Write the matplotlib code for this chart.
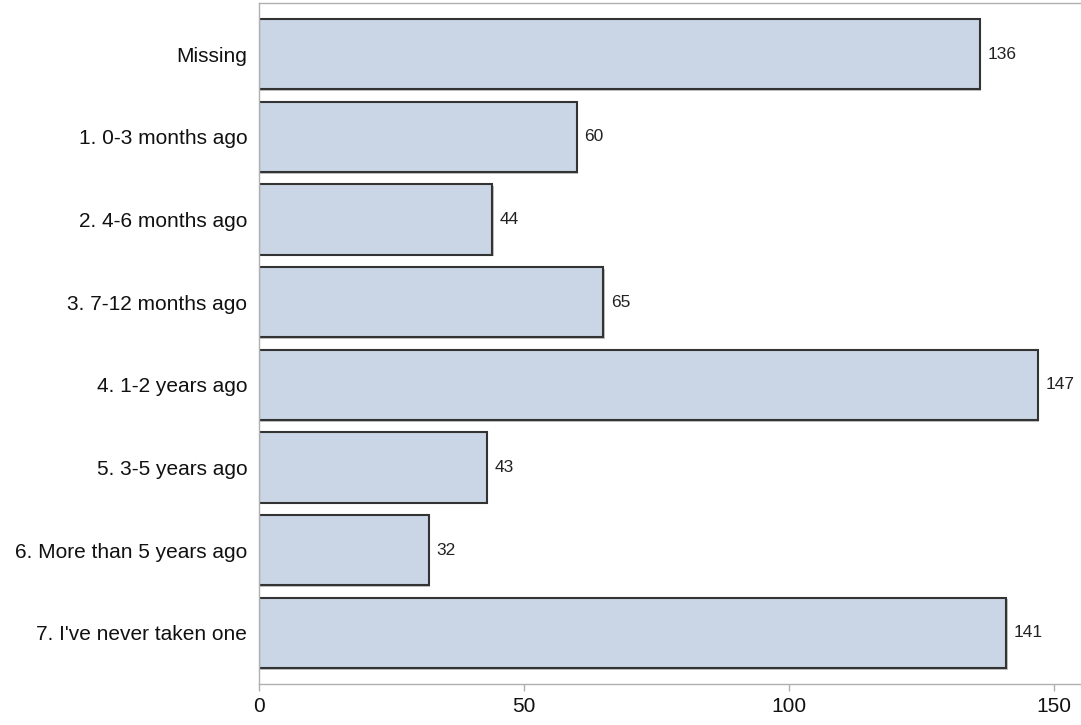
import matplotlib
matplotlib.use("Agg")
import matplotlib.pyplot as plt

# categories and counts
cats = ["Missing", "1. 0-3 months ago", "2. 4-6 months ago", "3. 7-12 months ago",
        "4. 1-2 years ago", "5. 3-5 years ago", "6. More than 5 years ago",
        "7. I've never taken one"]
counts = [136, 60, 44, 65, 147, 43, 32, 141]
xticks = [0, 50, 100, 150]

plt.rcParams["font.family"] = ["Liberation Sans", "DejaVu Sans"]

fig = plt.figure(figsize=(10.81, 7.25), dpi=100)
ax = fig.add_axes([259 / 1081, 41 / 725, 1 - 259 / 1081, 681 / 725])

ypos = list(range(len(cats)))
# faint shadow under each bar, then the bar itself
ax.barh([y + 0.02 for y in ypos], [c + 0.25 for c in counts], height=0.85,
        color="#9a9a9a", linewidth=0, alpha=0.6)
ax.barh(ypos, counts, height=0.85, color="#cad5e5", edgecolor="#333333", linewidth=1.5)

for y, v in zip(ypos, counts):
    ax.text(v + 1.4, y, str(v), va="center", ha="left", fontsize=12.5, color="#222222")

ax.set_yticks(ypos)
ax.set_yticklabels(cats, fontsize=15, color="#111111")
ax.set_ylim(7.62, -0.62)
ax.set_xlim(0, 155.1)
ax.set_xticks(xticks)
ax.set_xticklabels([str(t) for t in xticks], fontsize=15, color="#111111")

ax.tick_params(axis="y", length=0, pad=8.5)
ax.tick_params(axis="x", length=5, width=1, color="#b0b0b0", pad=4)

for s in ["left", "top", "bottom"]:
    ax.spines[s].set_color("#b0b0b0")
    ax.spines[s].set_linewidth(1)
ax.spines["right"].set_visible(False)

fig.savefig("out.png", dpi=100)
